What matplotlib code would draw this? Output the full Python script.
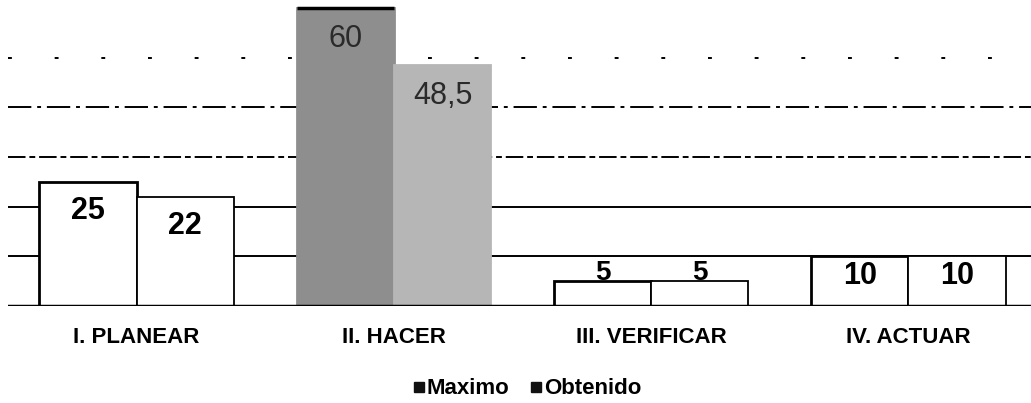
import numpy as np
import matplotlib.pyplot as plt
from matplotlib.lines import Line2D

plt.rcParams['font.family'] = ['Liberation Sans', 'DejaVu Sans']

# data
categories = ['I. PLANEAR', 'II. HACER', 'III. VERIFICAR', 'IV. ACTUAR']
maximo = [25, 60, 5, 10]
obtenido = [22, 48.5, 5, 10]
maximo_labels = ['25', '60', '5', '10']
obtenido_labels = ['22', '48,5', '5', '10']

# styles
max_face = ['white', '#8e8e8e', 'white', 'white']
obt_face = ['white', '#b6b6b6', 'white', 'white']
# label offset (points) from bar top, font size, weight, colour
lab_off = [-21, -22, 6, -14]
lab_size = [22, 22, 20, 22]
lab_weight = ['bold', 'normal', 'bold', 'bold']
lab_color = ['black', '#2a2a2a', 'black', 'black']

fig = plt.figure(figsize=(10.31, 4.03), dpi=100)
ax = fig.add_axes([8 / 1031, 97 / 403, 1029 / 1031, 303 / 403])

x = np.arange(len(categories))
w = 0.378

b1 = ax.bar(x - w / 2, maximo, w, color=max_face,
            edgecolor=['black' if c == 'white' else c for c in max_face], linewidth=2, zorder=3)
b2 = ax.bar(x + w / 2, obtenido, w, color=obt_face,
            edgecolor=['black' if c == 'white' else c for c in obt_face], linewidth=1.3, zorder=3)

# thick top edge on the grey maximo bar
p = b1[1]
ax.hlines(p.get_height(), p.get_x(), p.get_x() + p.get_width(), color='black', lw=2.5, zorder=4)

for bars, labs in [(b1, maximo_labels), (b2, obtenido_labels)]:
    for i, (bar, lab) in enumerate(zip(bars, labs)):
        ax.annotate(lab, (bar.get_x() + bar.get_width() / 2, bar.get_height()),
                    xytext=(0, lab_off[i]), textcoords='offset points',
                    ha='center', va='center', fontsize=lab_size[i],
                    fontweight=lab_weight[i], color=lab_color[i], zorder=5)

# gridlines (scan look: lower lines solid, upper broken)
for yv, ls in [(10, '-'), (20, '-'), (30, (0, (9, 2, 3, 2))), (40, (0, (12, 3, 2, 3))), (50, (0, (2, 22)))]:
    ax.axhline(yv, color='black', lw=1.4, ls=ls, zorder=1)
ax.axhline(0, color='black', lw=2.5, zorder=4)

ax.set_xlim(-0.5, 3.5)
ax.set_ylim(0, 61)
ax.set_xticks(x)
ax.set_xticklabels(categories, fontsize=16, fontweight='bold')
ax.tick_params(axis='x', length=0, pad=15)
ax.set_yticks([])
for s in ax.spines.values():
    s.set_visible(False)

handles = [Line2D([], [], marker='s', ls='', color='#111111', markersize=7),
           Line2D([], [], marker='s', ls='', color='#111111', markersize=7)]
fig.legend(handles, ['Maximo', 'Obtenido'], loc='center', bbox_to_anchor=(527 / 1031, 1 - 389 / 403),
           ncol=2, frameon=False, prop={'size': 16, 'weight': 'bold'},
           handletextpad=0.05, columnspacing=0.9, handlelength=0.6, borderpad=0)

fig.savefig('out.png', dpi=100)
